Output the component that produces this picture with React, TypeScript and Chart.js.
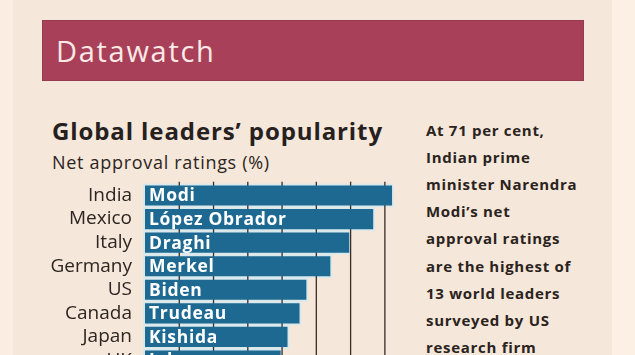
import React, { useEffect, useRef } from "react";
import { Chart, registerables } from "chart.js";

Chart.register(...registerables);

const countries = ["India", "Mexico", "Italy", "Germany", "US", "Canada", "Japan", "UK"];
const leaders = ["Modi", "López Obrador", "Draghi", "Merkel", "Biden", "Trudeau", "Kishida", "Johnson"];
const netApproval = [72, 66.5, 59.5, 54, 47, 45, 41.5, 39.5];
const gridTicks = [10, 20, 30, 40, 50, 60, 70];
const bannerTitle = "Datawatch";
const chartTitle = "Global leaders’ popularity";
const chartSubtitle = "Net approval ratings (%)";
const paragraphLines = [
  "At 71 per cent,",
  "Indian prime",
  "minister Narendra",
  "Modi’s net",
  "approval ratings",
  "are the highest of",
  "13 world leaders",
  "surveyed by US",
  "research firm",
];

const FONT = "'Open Sans', 'DejaVu Sans', sans-serif";
const BG = "#f5e7d9";
const BAR = "#1e6991";
const HALO = "#d8e9ee";
const GRID = "#3a2c26";
const INK = "#2c2521";

const barDecor = {
  id: "barDecor",
  beforeDatasetsDraw(chart: any) {
    const ctx = chart.ctx;
    const meta = chart.getDatasetMeta(0);
    const area = chart.chartArea;
    ctx.save();
    ctx.fillStyle = HALO;
    meta.data.forEach((bar: any) => {
      const p = bar.getProps(["x", "y", "base", "height"], true);
      ctx.fillRect(p.base - 2, p.y - p.height / 2 - 2, p.x - p.base + 4, p.height + 4);
    });
    const xs = chart.scales.x;
    ctx.strokeStyle = GRID;
    ctx.lineWidth = 1.3;
    gridTicks.forEach((v) => {
      const x = xs.getPixelForValue(v);
      ctx.beginPath();
      ctx.moveTo(x, area.top - 2);
      ctx.lineTo(x, area.bottom);
      ctx.stroke();
    });
    ctx.restore();
  },
  afterDatasetsDraw(chart: any) {
    const ctx = chart.ctx;
    const meta = chart.getDatasetMeta(0);
    ctx.save();
    ctx.fillStyle = "#ffffff";
    ctx.font = `700 17.5px ${FONT}`;
    try {
      (ctx as any).letterSpacing = "0.7px";
    } catch (e) {}
    ctx.textAlign = "left";
    ctx.textBaseline = "middle";
    meta.data.forEach((bar: any, i: number) => {
      const p = bar.getProps(["y", "base"], true);
      ctx.fillText(leaders[i], p.base + 4, p.y + 1);
    });
    ctx.restore();
  },
};

export default function App() {
  const ref = useRef<HTMLCanvasElement | null>(null);

  useEffect(() => {
    if (!ref.current) return;
    const chart = new Chart(ref.current, {
      type: "bar",
      data: {
        labels: countries,
        datasets: [
          {
            data: netApproval,
            backgroundColor: BAR,
            borderWidth: 0,
            barThickness: 19.5,
          },
        ],
      },
      options: {
        indexAxis: "y",
        animation: false,
        responsive: false,
        devicePixelRatio: 1,
        layout: { padding: { top: 13.7, bottom: 7.7, left: 0, right: 0 } },
        plugins: {
          legend: { display: false },
          tooltip: { enabled: false },
          title: { display: false },
        },
        scales: {
          x: {
            display: false,
            min: 0,
            max: 75,
          },
          y: {
            grid: { display: false, drawTicks: false },
            border: { display: false },
            ticks: {
              color: INK,
              padding: 13,
              autoSkip: false,
              font: { family: FONT, size: 19 },
            },
            afterFit: (scale: any) => {
              scale.width = 145;
              scale.paddingTop = 0;
              scale.paddingBottom = 0;
            },
          },
        },
      },
      plugins: [barDecor],
    });
    return () => chart.destroy();
  }, []);

  return (
    <div
      style={{
        position: "fixed",
        left: 0,
        top: 0,
        width: 635,
        height: 355,
        overflow: "hidden",
        background: BG,
        fontFamily: FONT,
      }}
    >
      <div style={{ position: "absolute", left: 0, top: 0, width: 13, height: 355, background: "#faeee2" }} />
      <div style={{ position: "absolute", left: 612, top: 0, width: 23, height: 355, background: "#fcefe3" }} />
      <div
        style={{
          position: "absolute",
          left: 42,
          top: 20,
          width: 542,
          height: 61,
          background: "#a9405a",
          boxSizing: "border-box",
          border: "1px solid #953a50",
        }}
      />
      <div
        style={{
          position: "absolute",
          left: 56,
          top: 35.9,
          fontSize: 29,
          lineHeight: "29px",
          letterSpacing: 1.7,
          color: "#fae9e5",
          whiteSpace: "nowrap",
        }}
      >
        {bannerTitle}
      </div>
      <div
        style={{
          position: "absolute",
          left: 52,
          top: 119.4,
          fontSize: 24,
          lineHeight: "24px",
          fontWeight: 700,
          letterSpacing: 0.9,
          color: "#262020",
          whiteSpace: "nowrap",
        }}
      >
        {chartTitle}
      </div>
      <div
        style={{
          position: "absolute",
          left: 52,
          top: 153,
          fontSize: 18,
          lineHeight: "18px",
          letterSpacing: 0.7,
          color: INK,
          whiteSpace: "nowrap",
        }}
      >
        {chartSubtitle}
      </div>
      <div
        style={{
          position: "absolute",
          left: 426,
          top: 116.5,
          fontSize: 15,
          lineHeight: "27.2px",
          fontWeight: 700,
          letterSpacing: 0.7,
          color: "#2a2320",
          whiteSpace: "nowrap",
        }}
      >
        {paragraphLines.map((l, i) => (
          <div key={i}>{l}</div>
        ))}
      </div>
      <canvas
        ref={ref}
        width={402}
        height={210}
        style={{ position: "absolute", left: 0, top: 170, width: 402, height: 210 }}
      />
    </div>
  );
}
